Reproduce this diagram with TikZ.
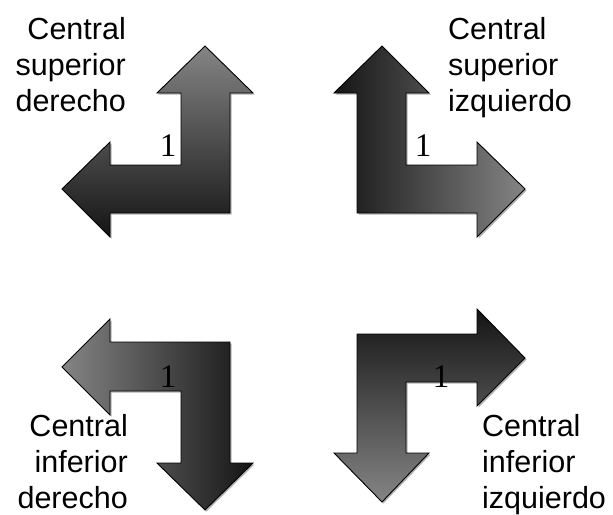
\documentclass[tikz,border=0pt]{standalone}
\usepackage{fontspec}
\setsansfont{Liberation Sans}
\newfontfamily\digitfont{Liberation Serif}
\usetikzlibrary{shadows}

\tikzset{
  bentarrow/.style={draw=black, line width=0.9pt, line join=miter,
    drop shadow={shadow xshift=1.5pt, shadow yshift=-1.5pt, opacity=0.3, fill=black}},
  caption/.style={font=\sffamily\fontsize{30.5}{36}\selectfont, inner sep=0pt},
  num/.style={font=\digitfont\fontsize{33}{33}\selectfont, inner sep=0pt}
}

\begin{document}
\begin{tikzpicture}[x=1pt, y=-1pt]
    \useasboundingbox (0,0) rectangle (613,514);

    % Flechas
    \draw [bentarrow, top color=black!48, bottom color=black!92]
      (205,46) -- (253,93) -- (230,93) -- (230,213) -- (110,213) -- (110,237)
      -- (62,189) -- (110,142) -- (110,165) -- (181,165) -- (181,93) -- (157,93) -- cycle;
    \draw [bentarrow, left color=black!92, right color=black!48]
      (382,46) -- (429,93) -- (406,93) -- (406,165) -- (477,165) -- (477,142)
      -- (525,189) -- (477,237) -- (477,213) -- (357,213) -- (357,93) -- (334,93) -- cycle;
    \draw [bentarrow, left color=black!48, right color=black!92]
      (62,367) -- (110,319) -- (110,342) -- (230,342) -- (230,463) -- (253,463)
      -- (205,510) -- (157,463) -- (181,463) -- (181,391) -- (110,391) -- (110,415) -- cycle;
    \draw [bentarrow, top color=black!92, bottom color=black!48]
      (357,334) -- (477,334) -- (477,309) -- (525,358) -- (477,406) -- (477,382)
      -- (406,382) -- (406,453) -- (429,453) -- (382,502) -- (334,453) -- (357,453) -- cycle;

    % Numeros
    \node (num1) [num] at (168,146) {1};
    \node (num2) [num] at (423,146) {1};
    \node (num3) [num] at (168,377) {1};
    \node (num4) [num] at (441,377) {1};

    % Etiquetas
    \node (supder) [caption, align=right, anchor=north east] at (126,17) {Central\\superior\\derecho};
    \node (supizq) [caption, align=left, anchor=north west] at (448,17) {Central\\superior\\izquierdo};
    \node (infder) [caption, align=right, anchor=north east] at (128,414) {Central\\inferior\\derecho};
    \node (infizq) [caption, align=left, anchor=north west] at (482,414) {Central\\inferior\\izquierdo};

\end{tikzpicture}
\end{document}
